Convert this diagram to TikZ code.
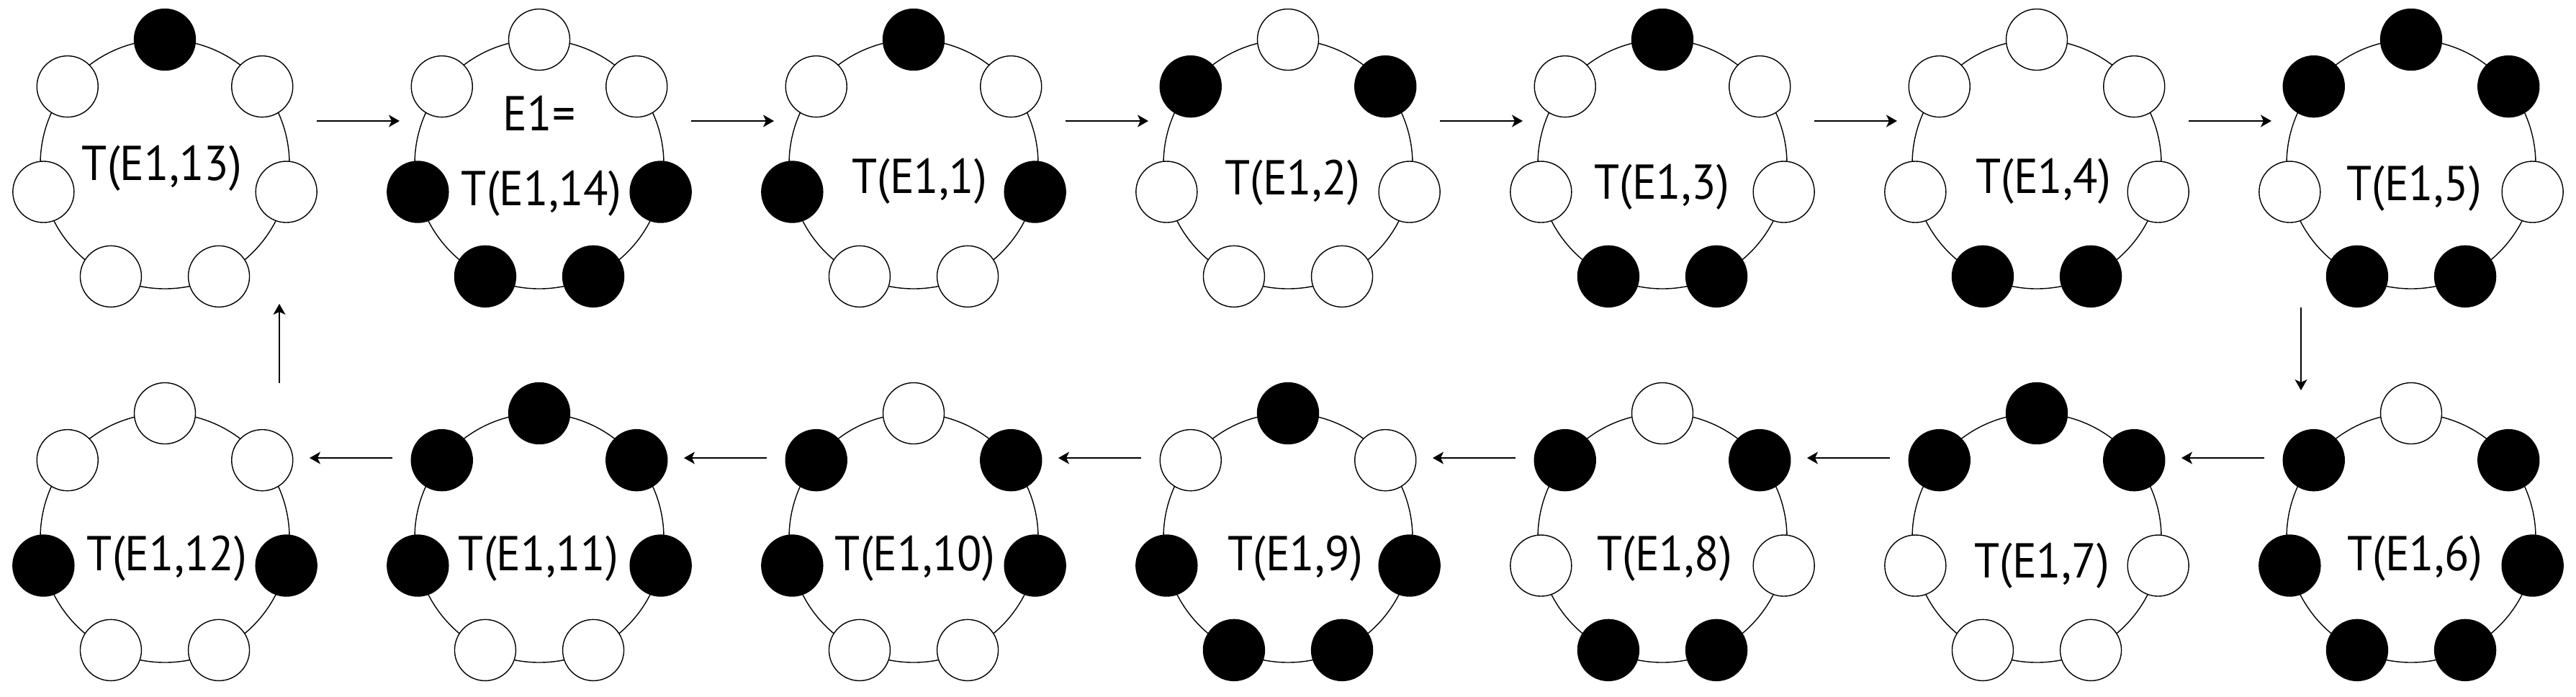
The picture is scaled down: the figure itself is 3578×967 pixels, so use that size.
\documentclass[tikz,border=0pt]{standalone}
\usepackage{fontspec}
\setmainfont{PT Sans}
\usetikzlibrary{arrows.meta}
\begin{document}
\begin{tikzpicture}[x=0.25pt,y=-0.25pt,
  ringline/.style={circle,draw,line width=0.35pt,minimum size=86.5pt,inner sep=0pt},
  dot/.style={circle,draw,line width=0.35pt,minimum size=21.25pt,inner sep=0pt},
  blackdot/.style={dot,fill=black},
  whitedot/.style={dot,fill=white},
  lab/.style={anchor=base,inner sep=0pt,xscale=0.93,font=\fontsize{17}{20}\selectfont},
  arr/.style={line width=0.35pt,-{Stealth[length=3.75pt,width=4.25pt,inset=1pt]}}]
\useasboundingbox (0,0) rectangle (3578,967);

% rings: number / centre x / centre y / top / upper-left / upper-right / mid-left / mid-right / bottom-left / bottom-right
\foreach \n/\cx/\cy/\a/\b/\c/\d/\e/\f/\g in {
  1/229/228/blackdot/whitedot/whitedot/whitedot/whitedot/whitedot/whitedot,
  2/749/228/whitedot/whitedot/whitedot/blackdot/blackdot/blackdot/blackdot,
  3/1269/228/blackdot/whitedot/whitedot/blackdot/blackdot/whitedot/whitedot,
  4/1789/228/whitedot/blackdot/blackdot/whitedot/whitedot/whitedot/whitedot,
  5/2309/228/blackdot/whitedot/whitedot/whitedot/whitedot/blackdot/blackdot,
  6/2829/228/whitedot/whitedot/whitedot/whitedot/whitedot/blackdot/blackdot,
  7/3349/228/blackdot/blackdot/blackdot/whitedot/whitedot/blackdot/blackdot,
  8/229/747/whitedot/whitedot/whitedot/blackdot/blackdot/whitedot/whitedot,
  9/749/747/blackdot/blackdot/blackdot/blackdot/blackdot/whitedot/whitedot,
  10/1269/747/whitedot/blackdot/blackdot/blackdot/blackdot/whitedot/whitedot,
  11/1789/747/blackdot/whitedot/whitedot/blackdot/blackdot/blackdot/blackdot,
  12/2309/747/whitedot/blackdot/blackdot/whitedot/whitedot/blackdot/blackdot,
  13/2829/747/blackdot/blackdot/blackdot/whitedot/whitedot/whitedot/whitedot,
  14/3349/747/whitedot/blackdot/blackdot/blackdot/blackdot/blackdot/blackdot}
{
  \node[ringline] (r\n) at (\cx,\cy) {};
  \node[\a] (r\n-t)  at (\cx,\cy-173) {};
  \node[\b] (r\n-ul) at (\cx-135.25,\cy-107.87) {};
  \node[\c] (r\n-ur) at (\cx+135.25,\cy-107.87) {};
  \node[\d] (r\n-ml) at (\cx-168.66,\cy+38.5) {};
  \node[\e] (r\n-mr) at (\cx+168.66,\cy+38.5) {};
  \node[\f] (r\n-bl) at (\cx-75.06,\cy+155.87) {};
  \node[\g] (r\n-br) at (\cx+75.06,\cy+155.87) {};
}

% labels
\node[lab] (l1)  at (225,250)  {T(E1,13)};
\node[lab] (l2a) at (749,181)  {E1=};
\node[lab] (l2)  at (752,285)  {T(E1,14)};
\node[lab] (l3)  at (1277,268) {T(E1,1)};
\node[lab] (l4)  at (1795,270) {T(E1,2)};
\node[lab] (l5)  at (2308,276) {T(E1,3)};
\node[lab] (l6)  at (2838,268) {T(E1,4)};
\node[lab] (l7)  at (3353,278) {T(E1,5)};
\node[lab] (l8)  at (232,792)  {T(E1,12)};
\node[lab] (l9)  at (748,792)  {T(E1,11)};
\node[lab] (l10) at (1271,792) {T(E1,10)};
\node[lab] (l11) at (1799,792) {T(E1,9)};
\node[lab] (l12) at (2312,792) {T(E1,8)};
\node[lab] (l13) at (2836,802) {T(E1,7)};
\node[lab] (l14) at (3354,792) {T(E1,6)};

% connectors
\foreach \i in {1,...,6}{
  \coordinate (ts\i) at ({229+520*(\i-1)+211},168);
  \coordinate (te\i) at ({229+520*(\i-1)+326},168);
  \coordinate (bs\i) at ({229+520*(\i-1)+316},636);
  \coordinate (be\i) at ({229+520*(\i-1)+201},636);
  \draw[arr] (ts\i) -- (te\i);
  \draw[arr] (bs\i) -- (be\i);
}
\coordinate (vrs) at (3196,427);
\coordinate (vre) at (3196,542);
\coordinate (vls) at (388,532);
\coordinate (vle) at (388,422);
\draw[arr] (vrs) -- (vre);
\draw[arr] (vls) -- (vle);
\end{tikzpicture}
\end{document}
